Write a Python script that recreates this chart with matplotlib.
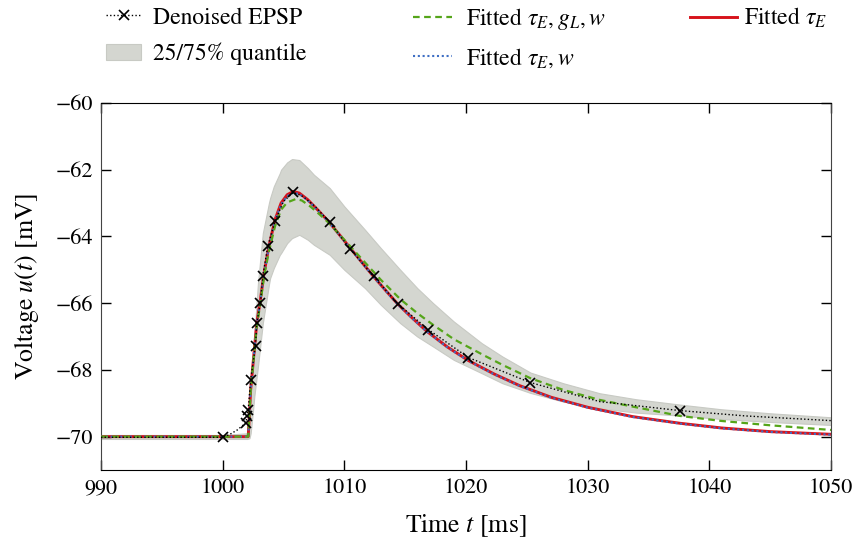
import matplotlib
matplotlib.use("Agg")
import matplotlib.pyplot as plt

# Denoised EPSP (black dotted, markers at the sampled points)
t_epsp = [990, 995, 1000.0, 1000.6, 1001.2, 1001.9, 1002.0, 1002.1, 1002.3, 1002.7,
          1002.8, 1003.1, 1003.3, 1003.7, 1004.3, 1005.0, 1005.8, 1006.6, 1007.6,
          1008.8, 1010.5, 1012.4, 1014.4, 1016.9, 1020.2, 1025.3, 1031.0, 1037.6,
          1043.0, 1050.0]
v_epsp = [-70.02, -70.02, -70.02, -69.93, -69.80, -69.59, -69.39, -69.19, -68.29, -67.28,
          -66.60, -66.00, -65.18, -64.30, -63.55, -62.95, -62.68, -62.80, -63.10,
          -63.58, -64.38, -65.20, -66.02, -66.79, -67.63, -68.38, -68.95, -69.22,
          -69.38, -69.52]
epsp_marks = [2, 5, 6, 7, 8, 9, 10, 11, 12, 13, 14, 16, 19, 20, 21, 22, 23, 24, 25, 27]

# 25/75% quantile band
t_band = [990, 1000.0, 1002.0, 1002.2, 1002.3, 1002.5, 1002.6, 1002.9, 1003.3, 1003.8,
          1003.9, 1004.2, 1004.7, 1004.8, 1005.3, 1005.7, 1006.3, 1007.0, 1007.5,
          1008.8, 1010.0, 1011.7, 1013.0, 1014.6, 1016.0, 1017.3, 1019.0, 1021.3,
          1023.0, 1025.3, 1028.0, 1031.0, 1034.0, 1037.6, 1041.0, 1045.0, 1050.0]
q_upper = [-69.95, -69.95, -69.90, -69.20, -68.60, -67.60, -67.00, -65.40, -63.90, -63.00,
           -62.85, -62.50, -62.10, -62.00, -61.78, -61.68, -61.71, -61.95, -62.15,
           -62.55, -63.10, -63.80, -64.35, -65.00, -65.55, -66.00, -66.55, -67.20,
           -67.60, -68.08, -68.40, -68.70, -68.88, -69.04, -69.18, -69.30, -69.42]
q_lower = [-70.07, -70.07, -70.07, -70.05, -69.90, -69.20, -68.80, -67.90, -66.60, -65.45,
           -65.25, -64.95, -64.55, -64.50, -64.20, -64.05, -63.95, -64.10, -64.25,
           -64.55, -65.00, -65.55, -66.05, -66.60, -67.00, -67.30, -67.70, -68.10,
           -68.40, -68.69, -68.95, -69.15, -69.28, -69.37, -69.47, -69.56, -69.65]

# Fitted tau_E (red) and fitted tau_E, w (blue)
t_fit = [990, 1002.1, 1002.3, 1002.6, 1002.8, 1003.1, 1003.4, 1003.8, 1004.3, 1004.8,
         1005.3, 1005.8, 1006.3, 1007.0, 1007.8, 1008.7, 1009.6, 1010.6, 1011.5,
         1012.4, 1013.4, 1014.4, 1015.6, 1016.8, 1018.5, 1020.2, 1022.3, 1024.4,
         1027.0, 1030.0, 1033.7, 1037.6, 1041.0, 1045.0, 1050.0]
v_tau = [-70.00, -70.00, -68.60, -67.40, -66.60, -65.90, -65.10, -64.30, -63.50, -63.00,
         -62.75, -62.65, -62.70, -62.90, -63.20, -63.55, -63.95, -64.40, -64.80,
         -65.20, -65.62, -66.03, -66.45, -66.85, -67.32, -67.72, -68.12, -68.47,
         -68.82, -69.12, -69.40, -69.60, -69.74, -69.85, -69.93]
v_tau_w = [-70.00, -70.00, -68.62, -67.42, -66.62, -65.92, -65.12, -64.33, -63.53, -63.04,
           -62.79, -62.69, -62.73, -62.92, -63.21, -63.56, -63.96, -64.41, -64.81,
           -65.21, -65.63, -66.04, -66.46, -66.86, -67.33, -67.73, -68.13, -68.48,
           -68.83, -69.13, -69.41, -69.61, -69.75, -69.86, -69.94]

# Fitted tau_E, g_L, w (green)
t_fit_gl = [990, 1002.1, 1002.3, 1002.6, 1002.8, 1003.1, 1003.4, 1003.8, 1004.3, 1004.8,
            1005.3, 1006.0, 1006.5, 1007.2, 1008.0, 1008.8, 1010.0, 1011.5, 1013.0,
            1014.6, 1016.0, 1017.3, 1019.0, 1021.4, 1023.0, 1025.3, 1028.0, 1031.0,
            1033.7, 1037.6, 1041.0, 1045.0, 1050.0]
v_tau_gl_w = [-70.00, -70.00, -68.65, -67.45, -66.70, -66.00, -65.20, -64.45, -63.70, -63.20,
              -62.98, -62.88, -62.92, -63.10, -63.35, -63.62, -64.10, -64.70, -65.30,
              -65.88, -66.30, -66.65, -67.08, -67.55, -67.85, -68.25, -68.60, -68.90,
              -69.10, -69.38, -69.53, -69.66, -69.80]

x_ticks = [990, 1000, 1010, 1020, 1030, 1040, 1050]
y_ticks = [-70, -68, -66, -64, -62, -60]


def main():
    plt.rcParams['font.family'] = ['STIXGeneral', 'DejaVu Serif']
    plt.rcParams['mathtext.fontset'] = 'stix'
    plt.rcParams['font.size'] = 16

    W, H = 858, 545
    fig = plt.figure(figsize=(W / 100, H / 100), dpi=100)
    ax = fig.add_axes([101 / W, 1 - 470 / H, 730 / W, 367 / H])

    band = ax.fill_between(t_band, q_lower, q_upper, facecolor='#d4d6d0',
                           edgecolor='#c8cac4', linewidth=0.8, zorder=1)
    red, = ax.plot(t_fit, v_tau, color='#d7121b', lw=2.1, zorder=3)
    blue, = ax.plot(t_fit, v_tau_w, color='#3f6fc4', lw=1.5, ls=(0, (1, 1.3)), zorder=4)
    green, = ax.plot(t_fit_gl, v_tau_gl_w, color='#55a51a', lw=1.6, ls=(0, (3, 2)),
                     zorder=5)
    black, = ax.plot(t_epsp, v_epsp, color='black', lw=1.0, ls=(0, (1, 1.6)), marker='x',
                     markersize=7, markeredgewidth=1.2, markevery=epsp_marks, zorder=6)

    ax.set_xlim(990, 1050)
    ax.set_ylim(-71, -60)
    ax.set_xticks(x_ticks)
    ax.set_yticks(y_ticks)
    ax.tick_params(direction='in', length=7, width=1, top=True, right=True, pad=6)
    for side in ['left', 'right']:
        ax.spines[side].set_color('#444444')
    ax.set_xlabel(r'Time $t$ [ms]', fontsize=18.5, labelpad=10)
    ax.set_ylabel(r'Voltage $u(t)$ [mV]', fontsize=18.5, labelpad=10)

    # legend as three columns placed above the axes
    common = dict(frameon=False, loc='upper left', fontsize=17, borderpad=0,
                  borderaxespad=0, labelspacing=0.6)
    fig.legend([black, band], ['Denoised EPSP', '25/75% quantile'],
               bbox_to_anchor=(106 / W, 1 - 7 / H), handlelength=1.5,
               handletextpad=0.5, **common)
    fig.legend([green, blue], [r'Fitted $\tau_E, g_L, w$', r'Fitted $\tau_E, w$'],
               bbox_to_anchor=(413 / W, 1 - 6 / H), handlelength=1.65,
               handletextpad=0.6, **common)
    fig.legend([red], [r'Fitted $\tau_E$'],
               bbox_to_anchor=(690 / W, 1 - 6 / H), handlelength=2.0,
               handletextpad=0.3, **common)

    fig.savefig('out.png', dpi=100)
    plt.close(fig)


if __name__ == "__main__":
    main()
